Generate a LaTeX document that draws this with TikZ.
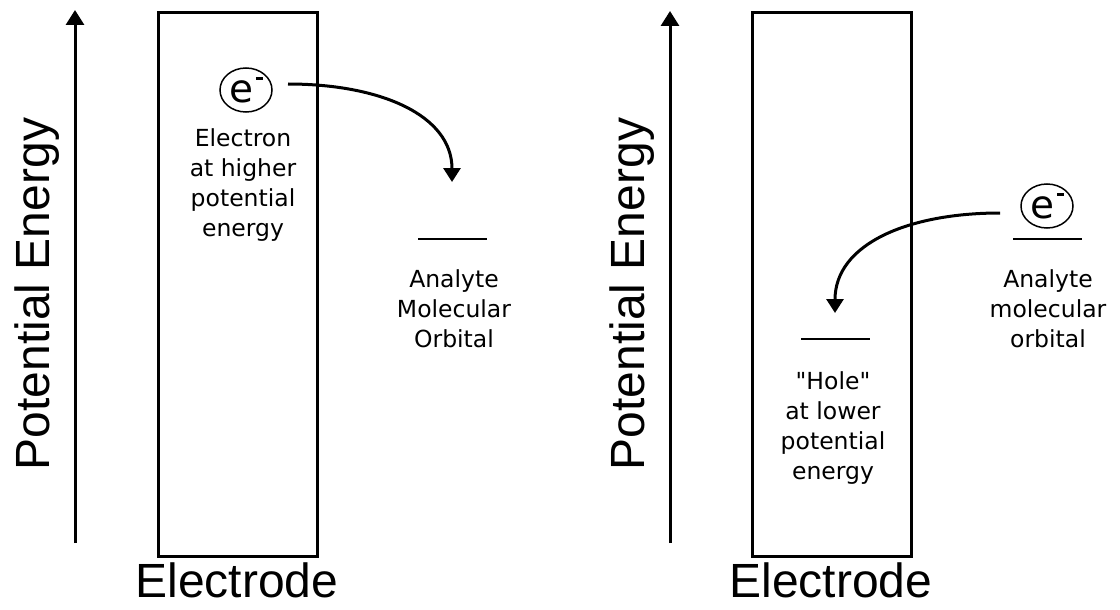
\documentclass[tikz,border=0pt]{standalone}
\usepackage{fontspec}
\setmainfont{DejaVu Sans}
\newfontfamily\dvs{DejaVu Sans}
\newfontfamily\arialf{Liberation Sans}
\usetikzlibrary{arrows.meta,shapes.geometric}
\begin{document}
\begin{tikzpicture}[x=1pt,y=-1pt,
  big/.style={font=\arialf\fontsize{48}{48}\selectfont, inner sep=0, anchor=base},
  lbl/.style={font=\dvs\fontsize{23.5}{30}\selectfont, align=center, inner sep=0, anchor=north},
  frame/.style={draw, line width=3pt},
  axis/.style={line width=3pt, -{Triangle[width=18pt,length=15pt]}},
  hop/.style={line width=3pt, -{Triangle[width=17pt,length=14pt]}},
  level/.style={line width=2pt},
  elec/.style={draw, ellipse, line width=1.5pt, minimum width=52pt, minimum height=44pt, inner sep=0,
    font=\dvs\fontsize{39}{39}\selectfont}
]
\useasboundingbox (0,0) rectangle (1120,610);
\newcommand{\eminus}{e\hspace{3pt}\raisebox{22pt}{\rule{7pt}{2.8pt}}}

% ---------- left panel ----------
\coordinate (axL0) at (75,543);
\coordinate (axL1) at (75,10);
\draw[axis] (axL0) -- (axL1);
\node[big, rotate=90] (peL) at (49,294) {Potential Energy};
\draw[frame] (158,13) rectangle (317,556);
\node[big] (elL) at (237,597) {Electrode};

\node[elec] (eL) at (246,90) {\eminus};
\node[lbl] (txL) at (243,128) {Electron\\at higher\\potential\\energy};
\coordinate (sL) at (288,84);
\coordinate (tL) at (452,182);
\draw[hop] (sL) .. controls (380,84) and (452,115) .. (tL);
\coordinate (oL0) at (418,239);
\coordinate (oL1) at (487,239);
\draw[level] (oL0) -- (oL1);
\node[lbl] (anL) at (454,269) {Analyte\\Molecular\\Orbital};

% ---------- right panel ----------
\coordinate (axR0) at (670,543);
\coordinate (axR1) at (670,11);
\draw[axis] (axR0) -- (axR1);
\node[big, rotate=90] (peR) at (644,294) {Potential Energy};
\draw[frame] (752,13) rectangle (911,556);
\node[big] (elR) at (831,597) {Electrode};

\node[elec] (eR) at (1047,206) {\eminus};
\coordinate (oR0) at (1013,239);
\coordinate (oR1) at (1082,239);
\draw[level] (oR0) -- (oR1);
\node[lbl] (anR) at (1048,269) {Analyte\\molecular\\orbital};
\coordinate (sR) at (1000,213);
\coordinate (tR) at (835,313);
\draw[hop] (sR) .. controls (908,213) and (835,244) .. (tR);
\coordinate (hR0) at (801,339);
\coordinate (hR1) at (870,339);
\draw[level] (hR0) -- (hR1);
\node[lbl] (hole) at (833,371) {"Hole"\\at lower\\potential\\energy};
\end{tikzpicture}
\end{document}
